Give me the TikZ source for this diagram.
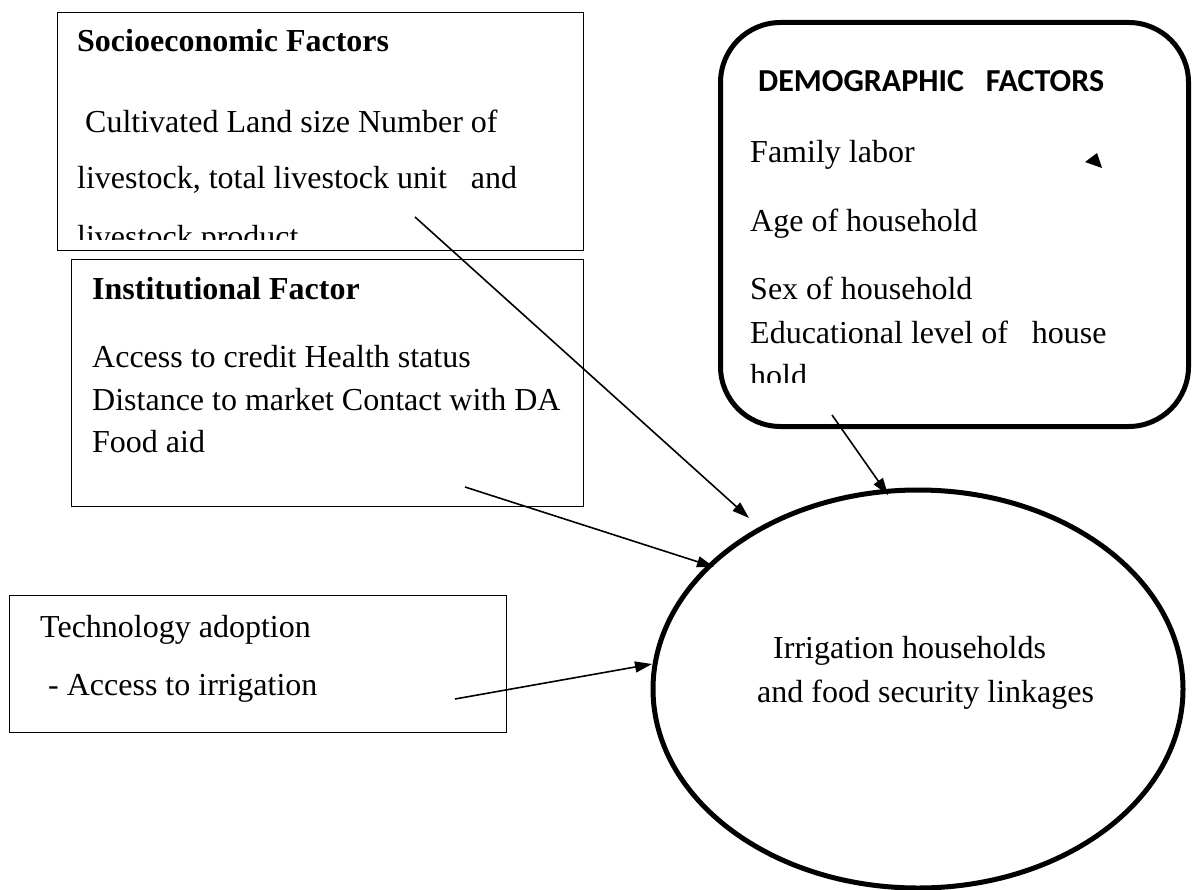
\documentclass[tikz,border=0pt]{standalone}
\usepackage{fontspec}
\setmainfont{Liberation Serif}
\newfontfamily\calibri{Carlito}
\usetikzlibrary{arrows.meta,positioning,shapes.geometric}

\tikzset{
  factor/.style={draw, line width=1.3pt, anchor=north west, inner sep=0pt},
  roundbox/.style={draw, line width=5pt, rounded corners=60pt, anchor=north west, inner sep=0pt},
  linkage/.style={draw, ellipse, line width=5pt, inner sep=0pt},
  txt/.style={anchor=base west, inner sep=0pt},
  link/.style={-{Triangle[length=17pt,width=11pt]}, line width=1.6pt},
}

\begin{document}
\begin{tikzpicture}[x=1pt,y=-1pt,font=\fontsize{32}{38}\selectfont]
\useasboundingbox (0,0) rectangle (1198,890);

% factor boxes
\node (socio) [factor, minimum width=526pt, minimum height=238pt] at (57,12) {};
\node (inst) [factor, minimum width=512pt, minimum height=247pt] at (71,259) {};
\node (tech) [factor, minimum width=497pt, minimum height=137pt] at (9,595) {};
\node (demo) [roundbox, minimum width=468pt, minimum height=404pt] at (718,20) {};
\node (goal) [linkage, minimum width=530pt, minimum height=398pt] at (918,689) {};

% socioeconomic
\node [txt] at (77,52) {\bfseries Socioeconomic Factors};
\node [txt] at (77,133) {\ Cultivated Land size Number of};
\node [txt] at (77,189) {livestock, total livestock unit \ \ and};
\begin{scope}
  \clip (57,200) rectangle (583,240);
  \node [txt] at (77,248) {livestock product};
\end{scope}

% institutional
\node [txt] at (92,300) {\bfseries Institutional Factor};
\node [txt] at (92,367) {Access to credit Health status};
\node [txt] at (92,410) {Distance to market Contact with DA};
\node [txt] at (92,452) {Food aid};

% technology
\node [txt] at (40,637) {Technology adoption};
\node [txt] at (48,695) {- Access to irrigation};

% demographic
\node [txt] at (758,92) {\calibri\bfseries DEMOGRAPHIC \ \ FACTORS};
\node [txt] at (750,163) {Family labor};
\node [txt] at (750,232) {Age of household};
\node [txt] at (750,300) {Sex of household};
\node [txt] at (750,343) {Educational level of \ \ house};
\begin{scope}
  \clip (720,350) rectangle (1180,382);
  \node [txt] at (750,386) {hold};
\end{scope}
\fill (1085,162) -- (1097,153) -- (1102,168) -- cycle;

% outcome
\node [txt] at (773,658) {Irrigation households};
\node [txt] at (757,702) {and food security linkages};

% arrows
\coordinate (socio-out) at (415,217);
\coordinate (socio-in) at (749,518);
\coordinate (inst-out) at (465,487);
\coordinate (inst-in) at (714,567);
\coordinate (tech-out) at (455,699);
\coordinate (tech-in) at (652,664);
\coordinate (demo-out) at (832,415);
\coordinate (demo-in) at (888,495);

\draw [link] (socio-out) -- (socio-in);
\draw [link] (inst-out) -- (inst-in);
\draw [link] (tech-out) -- (tech-in);
\draw [link] (demo-out) -- (demo-in);

\end{tikzpicture}
\end{document}
